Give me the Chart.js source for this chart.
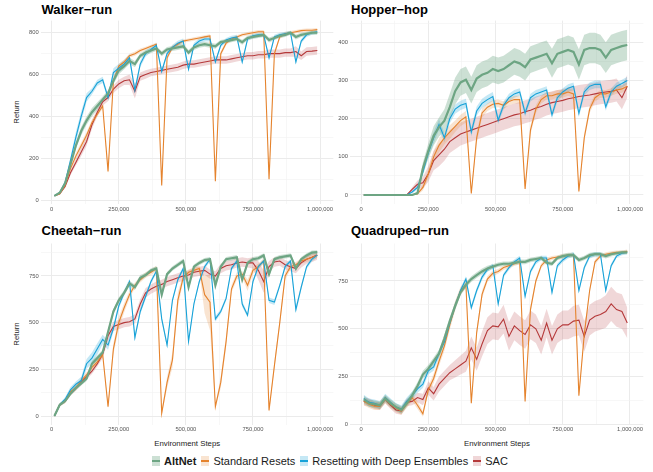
<!DOCTYPE html>
<html>
<head>
<meta charset="utf-8">
<script src="https://cdn.jsdelivr.net/npm/chart.js@4.4.1/dist/chart.umd.min.js"></script>
<style>
  body { margin: 0; background: #fff; }
  #wrap { position: relative; width: 653px; height: 472px; overflow: hidden; font-family: "Liberation Sans", Arial, sans-serif; }
  canvas { position: absolute; left: 0; top: 0; }
  .title { position: absolute; font-weight: bold; font-size: 13px; line-height: 13px; color: #000; white-space: nowrap; }
  .ytitle { position: absolute; font-size: 7.8px; line-height: 8px; color: #1a1a1a; transform: translate(-50%, -50%) rotate(-90deg); white-space: nowrap; }
  .xtitle { position: absolute; font-size: 7.8px; line-height: 8px; color: #1a1a1a; transform: translate(-50%, -50%); white-space: nowrap; }
  #legend { position: absolute; left: 152px; top: 455px; height: 12px; display: flex; align-items: center; font-size: 11px; line-height: 12px; color: #1a1a1a; white-space: nowrap; }
  .key { position: relative; width: 8px; height: 10px; margin-right: 4px; }
  .key i { position: absolute; left: 0; right: 0; top: 4.3px; height: 1.4px; }
  .item { display: flex; align-items: center; margin-right: 5px; }
</style>
</head>
<body>
<div id="wrap">
  <div class="title" style="left:41.5px; top:3px;">Walker−run</div>
  <div class="title" style="left:351px; top:3px;">Hopper−hop</div>
  <div class="title" style="left:41.5px; top:224px;">Cheetah−run</div>
  <div class="title" style="left:351px; top:224px;">Quadruped−run</div>
  <div class="ytitle" style="left:16.5px; top:112.3px;">Return</div>
  <div class="ytitle" style="left:16.5px; top:334px;">Return</div>
  <div class="xtitle" style="left:187.2px; top:444.3px;">Environment Steps</div>
  <div class="xtitle" style="left:496.9px; top:444.3px;">Environment Steps</div>
  <div id="legend"></div>
</div>
<script>
// environment steps (thousands)
var steps = [10,30,50,70,90,110,130,150,170,190, 210,230,250,270,290,310,330,350,370,390,
             410,430,450,470,490,510,530,550,570,590, 610,630,650,670,690,710,730,750,770,790,
             810,830,850,870,890,910,930,950,970,990];

var methods = ["AltNet", "Standard Resets", "Resetting with Deep Ensembles", "SAC"];
var xTicks = [0, 250000, 500000, 750000, 1000000];

// ---- Walker-run ----
var walkerAlt = [20,35,80,170,260,330,380,420,450,480, 510,570,620,640,665,650,690,705,715,725,
                 700,720,725,730,735,705,730,740,745,740, 735,755,760,765,770,755,775,780,785,790,
                 765,775,785,790,800,780,790,795,800,800];
var walkerAltBand = [3,5,8,12,15,20,20,20,18,15, 15,18,18,15,15,15,12,12,12,12, 12,12,12,12,12,12,12,12,12,12,
                     12,10,10,10,10,12,10,10,10,10, 12,10,10,10,10,12,10,10,10,10];
var walkerSR = [20,30,70,150,210,260,310,370,410,450, 137,570,640,660,690,700,715,725,735,745,
                70,680,730,745,760,765,770,775,780,785, 90,700,750,770,780,790,795,800,805,805,
                100,700,780,795,800,805,810,812,812,815];
var walkerSRBand = [3,5,8,10,15,15,15,15,12,12, 10,15,12,12,10,10,10,8,8,8, 8,12,10,8,8,8,8,8,8,8,
                    8,12,10,8,8,8,8,8,8,8, 8,12,10,8,8,8,8,8,8,8];
var walkerEns = [20,35,85,190,300,400,490,520,560,575, 490,610,630,650,680,525,650,700,720,740,
                 615,700,730,750,760,625,740,760,770,770, 660,740,765,775,780,660,770,785,790,790,
                 680,780,790,795,800,660,760,790,800,805];
var walkerEnsBand = [3,5,10,15,25,25,20,15,15,15, 15,20,20,20,18,18,15,15,12,12, 12,12,12,12,12,12,12,12,12,12,
                     10,10,10,10,10,12,10,10,10,10, 10,10,10,10,10,12,10,10,10,10];
var walkerSAC = [20,30,65,130,180,230,280,360,420,470, 490,530,555,570,575,520,590,600,610,615,
                 620,625,630,635,645,650,650,655,660,665, 670,670,670,675,680,685,690,690,695,695,
                 700,700,700,705,705,710,690,710,712,715];
var walkerSACBand = [3,5,8,12,15,20,20,20,18,18, 18,18,20,20,25,35,20,20,18,18, 18,18,18,18,18,18,18,18,18,18,
                     18,18,18,18,18,18,18,18,18,18, 20,20,20,20,20,25,20,20,20,20];
var walkerYTicks = [0, 200, 400, 600, 800];

// ---- Hopper-hop ----
var hopperAlt = [0,0,0,0,0,0,0,0,0,0, 5,70,115,155,178,195,230,272,295,302,
                 275,305,315,320,330,325,330,340,350,345, 335,355,360,365,370,345,370,375,380,375,
                 342,380,385,385,380,360,380,385,390,393];
var hopperAltBand = [0,0,0,0,0,0,0,0,0,0, 5,15,20,25,25,30,35,35,35,35, 35,35,35,35,35,35,35,35,35,35,
                     35,35,35,35,35,38,38,38,38,38, 40,40,40,40,40,40,40,40,40,40];
var hopperSR = [0,0,0,0,0,0,0,0,0,0, 3,20,55,100,130,150,165,180,195,205,
                4,150,215,230,238,240,235,245,250,250, 16,170,225,250,260,260,265,265,270,265,
                9,150,225,255,265,265,270,275,278,285];
var hopperSRBand = [0,0,0,0,0,0,0,0,0,0, 3,8,12,15,18,18,18,15,15,15, 3,15,12,10,10,10,10,10,10,10,
                    5,12,10,10,10,10,10,10,10,10, 5,12,10,10,10,10,10,10,10,10];
var hopperEns = [0,0,0,0,0,0,0,0,0,8, 20,60,110,150,185,150,200,225,235,240,
                 165,220,240,250,258,196,235,255,265,270, 215,255,265,270,275,210,255,270,280,285,
                 214,270,285,290,290,231,270,285,292,300];
var hopperEnsBand = [0,0,0,0,0,0,0,0,0,4, 6,10,12,15,15,12,12,12,12,12, 12,12,12,12,12,10,10,10,10,10,
                     10,10,10,10,10,10,10,10,10,10, 10,10,10,10,10,10,10,10,10,10];
var hopperSAC = [0,0,0,0,0,0,0,0,0,15, 28,32,55,90,105,120,140,150,160,165,
                 170,175,180,185,190,195,200,205,210,213, 218,222,228,232,238,242,245,248,252,255,
                 258,260,262,265,268,270,272,275,255,285];
var hopperSACBand = [0,0,0,0,0,0,0,0,0,5, 10,15,20,25,30,30,30,30,30,30, 30,30,30,30,30,30,30,30,30,30,
                     30,30,30,30,30,30,30,30,30,30, 30,30,30,30,30,30,30,30,30,30];
var hopperYTicks = [0, 100, 200, 300, 400];

// ---- Cheetah-run ----
var cheetahAlt = [0,60,80,120,150,175,200,280,310,340, 450,560,620,660,710,690,740,755,780,790,
                  650,760,790,810,830,690,800,820,835,840, 700,800,840,845,850,730,820,840,845,860,
                  760,840,850,855,860,790,840,860,875,878];
var cheetahAltBand = [3,8,10,12,12,12,12,15,15,15, 15,15,15,15,15,15,15,12,12,12, 15,12,12,12,12,15,12,12,12,12,
                      15,12,12,12,12,15,12,12,12,12, 15,12,12,12,12,15,12,12,12,10];
var cheetahSR = [0,60,80,130,150,190,220,260,290,330, 50,360,500,580,650,700,730,755,770,790,
                 15,180,300,620,740,770,780,790,650,610, 50,180,400,680,750,760,700,780,800,830,
                 30,270,500,750,800,810,830,840,850,860];
var cheetahSRBand = [3,8,10,12,12,15,15,15,15,15, 10,30,30,25,20,15,15,15,15,15, 10,30,40,40,20,15,15,15,100,150,
                     10,30,30,20,20,15,30,20,15,15, 10,20,20,20,15,15,15,15,15,15];
var cheetahEns = [0,60,90,140,170,190,280,310,360,410, 380,470,590,660,720,420,560,640,720,775,
                  520,380,620,730,790,400,600,720,800,840, 520,560,630,790,830,600,540,720,800,830,
                  620,610,700,800,830,570,690,800,840,862];
var cheetahEnsBand = [3,8,10,15,15,20,25,30,30,25, 25,20,15,15,15,20,15,15,12,12, 15,15,12,12,12,15,12,12,12,12,
                      15,12,12,12,12,15,12,12,12,12, 15,15,12,12,12,20,15,12,12,12];
var cheetahSAC = [0,60,80,120,150,180,210,240,280,330, 430,480,490,500,505,520,600,660,680,695,
                  705,720,730,740,750,755,770,775,780,760, 750,790,805,810,820,825,820,820,780,720,
                  800,825,830,810,800,790,820,840,850,862];
var cheetahSACBand = [3,8,10,12,15,15,15,15,15,20, 25,25,25,25,25,25,25,25,25,25, 25,25,25,25,25,25,25,25,25,25,
                      25,25,25,25,25,25,25,30,50,60, 30,25,25,25,25,25,25,25,25,25];
var cheetahYTicks = [0, 250, 500, 750];

// ---- Quadruped-run ----
var quadAlt = [130,110,105,100,135,110,90,75,110,150, 200,260,290,330,370,450,540,620,690,730,
               760,780,800,815,825,835,840,840,845,850, 850,860,865,870,845,840,870,880,885,885,
               860,870,885,890,890,880,890,895,900,900];
var quadAltBand = [20,20,20,20,20,20,20,20,20,20, 20,20,20,20,20,20,20,20,15,15, 15,15,15,15,12,12,12,12,12,12,
                   12,12,12,12,12,12,12,12,12,12, 12,12,12,12,12,12,12,10,10,10];
var quadSR = [120,105,95,95,130,105,85,70,105,140, 100,55,180,240,330,410,520,620,700,730,
              110,480,680,760,790,800,820,830,840,850, 120,600,750,830,860,870,875,880,885,885,
              150,470,700,850,880,890,895,900,900,905];
var quadSRBand = [20,20,20,20,20,20,20,20,20,20, 20,15,20,25,25,25,25,25,20,20, 8,20,20,15,15,12,12,12,12,12,
                  8,20,15,12,12,10,10,10,10,10, 8,20,15,12,10,10,10,10,10,10];
var quadEns = [135,115,110,100,140,115,90,80,120,150, 185,210,280,300,370,430,530,620,700,760,
               610,700,770,810,830,630,780,820,850,870, 670,800,850,870,870,690,830,860,880,890,
               700,820,880,890,890,700,830,880,895,900];
var quadEnsBand = [20,20,20,20,20,20,20,20,20,20, 20,20,20,20,20,20,20,20,15,15, 15,15,15,12,12,12,12,12,12,12,
                   12,12,12,12,12,12,12,12,12,12, 12,12,12,12,12,12,12,10,10,10];
var quadSAC = [120,115,100,95,130,100,75,70,115,120, 140,130,190,160,210,240,270,290,310,330,
               400,340,420,490,515,510,550,460,515,490, 470,520,500,440,530,440,500,520,520,540,
               545,460,545,565,575,590,630,600,590,530];
var quadSACBand = [20,20,20,20,20,20,20,20,20,20, 25,30,35,35,40,40,40,45,50,55, 60,60,65,70,70,70,75,75,75,75,
                   75,75,75,75,75,75,75,75,75,80, 80,80,80,80,80,85,90,90,90,80];
var quadYTicks = [0, 250, 500, 750];

// colours
var lineColors = ["#6da583", "#e5832d", "#17a2d8", "#b5393a"];
var bandColors = ["rgba(109,165,131,0.35)", "rgba(229,131,45,0.22)", "rgba(23,162,216,0.25)", "rgba(181,57,58,0.2)"];
var lineWidths = [2.2, 1.1, 1.1, 1.1];
var lineOrder = [1, 3, 2, 4];

function pts(arr) {
  return arr.map(function (v, i) { return { x: steps[i] * 1000, y: v }; });
}

function seriesSets(mean, half, m) {
  var up = mean.map(function (v, i) { return v + half[i]; });
  var lo = mean.map(function (v, i) { return v - half[i]; });
  return [
    { data: pts(up), borderWidth: 0, pointRadius: 0, fill: false, order: 20 },
    { data: pts(lo), borderWidth: 0, pointRadius: 0, fill: '-1', backgroundColor: bandColors[m], order: 20 },
    { data: pts(mean), borderColor: lineColors[m], borderWidth: lineWidths[m], pointRadius: 0, fill: false, order: lineOrder[m] }
  ];
}

function withMinors(majors, lo, hi) {
  var out = majors.slice();
  var step = majors[1] - majors[0];
  for (var i = 0; i < majors.length; i++) {
    var a = majors[i] - step / 2, b = majors[i] + step / 2;
    if (a > lo && out.indexOf(a) < 0) out.push(a);
    if (b < hi && out.indexOf(b) < 0) out.push(b);
  }
  return out.sort(function (p, q) { return p - q; });
}

function fmt(v) { return v.toLocaleString('en-US'); }

var W = 653, H = 472;
var XMIN = -39500, XMAX = 1049500;

function makePanel(area, ymin, ymax, yMajors, series) {
  var cv = document.createElement('canvas');
  cv.width = W; cv.height = H;
  cv.style.width = W + 'px'; cv.style.height = H + 'px';
  document.getElementById('wrap').appendChild(cv);

  var datasets = [];
  for (var m = 0; m < series.length; m++) {
    datasets = datasets.concat(seriesSets(series[m][0], series[m][1], m));
  }
  var yAll = withMinors(yMajors, ymin, ymax);
  var xAll = withMinors(xTicks, XMIN, XMAX);

  function gridColor(majors) {
    return function (ctx) { return ctx.tick && majors.indexOf(ctx.tick.value) >= 0 ? '#ebebeb' : '#f2f2f2'; };
  }
  function gridWidth(majors) {
    return function (ctx) { return ctx.tick && majors.indexOf(ctx.tick.value) >= 0 ? 1 : 0.6; };
  }

  new Chart(cv, {
    type: 'line',
    data: { datasets: datasets },
    options: {
      responsive: false,
      animation: false,
      events: [],
      layout: { padding: { left: area.l - 14, top: area.t, right: W - area.r, bottom: H - area.b - 10 } },
      plugins: { legend: { display: false }, tooltip: { enabled: false } },
      elements: { line: { tension: 0 } },
      scales: {
        x: {
          type: 'linear', min: XMIN, max: XMAX,
          afterBuildTicks: function (s) { s.ticks = xAll.map(function (v) { return { value: v }; }); },
          afterFit: function (s) { s.height = 10; },
          border: { display: false },
          grid: { drawTicks: false, color: gridColor(xTicks), lineWidth: gridWidth(xTicks) },
          ticks: {
            autoSkip: false, maxRotation: 0, padding: 1.5, color: '#555',
            font: { family: 'Liberation Sans', size: 5.8 },
            callback: function (v) { return xTicks.indexOf(v) >= 0 ? fmt(v) : ''; }
          }
        },
        y: {
          min: ymin, max: ymax,
          afterBuildTicks: function (s) { s.ticks = yAll.map(function (v) { return { value: v }; }); },
          afterFit: function (s) { s.width = 14; },
          border: { display: false },
          grid: { drawTicks: false, color: gridColor(yMajors), lineWidth: gridWidth(yMajors) },
          ticks: {
            autoSkip: false, padding: 2.5, color: '#555',
            font: { family: 'Liberation Sans', size: 5.8 },
            callback: function (v) { return yMajors.indexOf(v) >= 0 ? fmt(v) : ''; }
          }
        }
      }
    }
  });
}

makePanel({ l: 41.1, t: 20.6, r: 333.3, b: 204 }, -19, 858, walkerYTicks,
  [[walkerAlt, walkerAltBand], [walkerSR, walkerSRBand], [walkerEns, walkerEnsBand], [walkerSAC, walkerSACBand]]);
makePanel({ l: 350.4, t: 20.6, r: 643.3, b: 204 }, -23.6, 457, hopperYTicks,
  [[hopperAlt, hopperAltBand], [hopperSR, hopperSRBand], [hopperEns, hopperEnsBand], [hopperSAC, hopperSACBand]]);
makePanel({ l: 41.1, t: 243.5, r: 333.3, b: 424.5 }, -45.5, 924, cheetahYTicks,
  [[cheetahAlt, cheetahAltBand], [cheetahSR, cheetahSRBand], [cheetahEns, cheetahEnsBand], [cheetahSAC, cheetahSACBand]]);
makePanel({ l: 350.4, t: 243.5, r: 643.3, b: 424.5 }, -1, 946, quadYTicks,
  [[quadAlt, quadAltBand], [quadSR, quadSRBand], [quadEns, quadEnsBand], [quadSAC, quadSACBand]]);

// legend
var leg = document.getElementById('legend');
methods.forEach(function (name, m) {
  var item = document.createElement('div');
  item.className = 'item';
  var key = document.createElement('div');
  key.className = 'key';
  key.style.background = bandColors[m];
  var ln = document.createElement('i');
  ln.style.background = lineColors[m];
  if (m === 0) { ln.style.height = '2px'; ln.style.top = '4px'; }
  key.appendChild(ln);
  var txt = document.createElement('span');
  txt.textContent = name;
  if (m === 0) txt.style.fontWeight = 'bold';
  item.appendChild(key);
  item.appendChild(txt);
  leg.appendChild(item);
});
</script>
</body>
</html>
